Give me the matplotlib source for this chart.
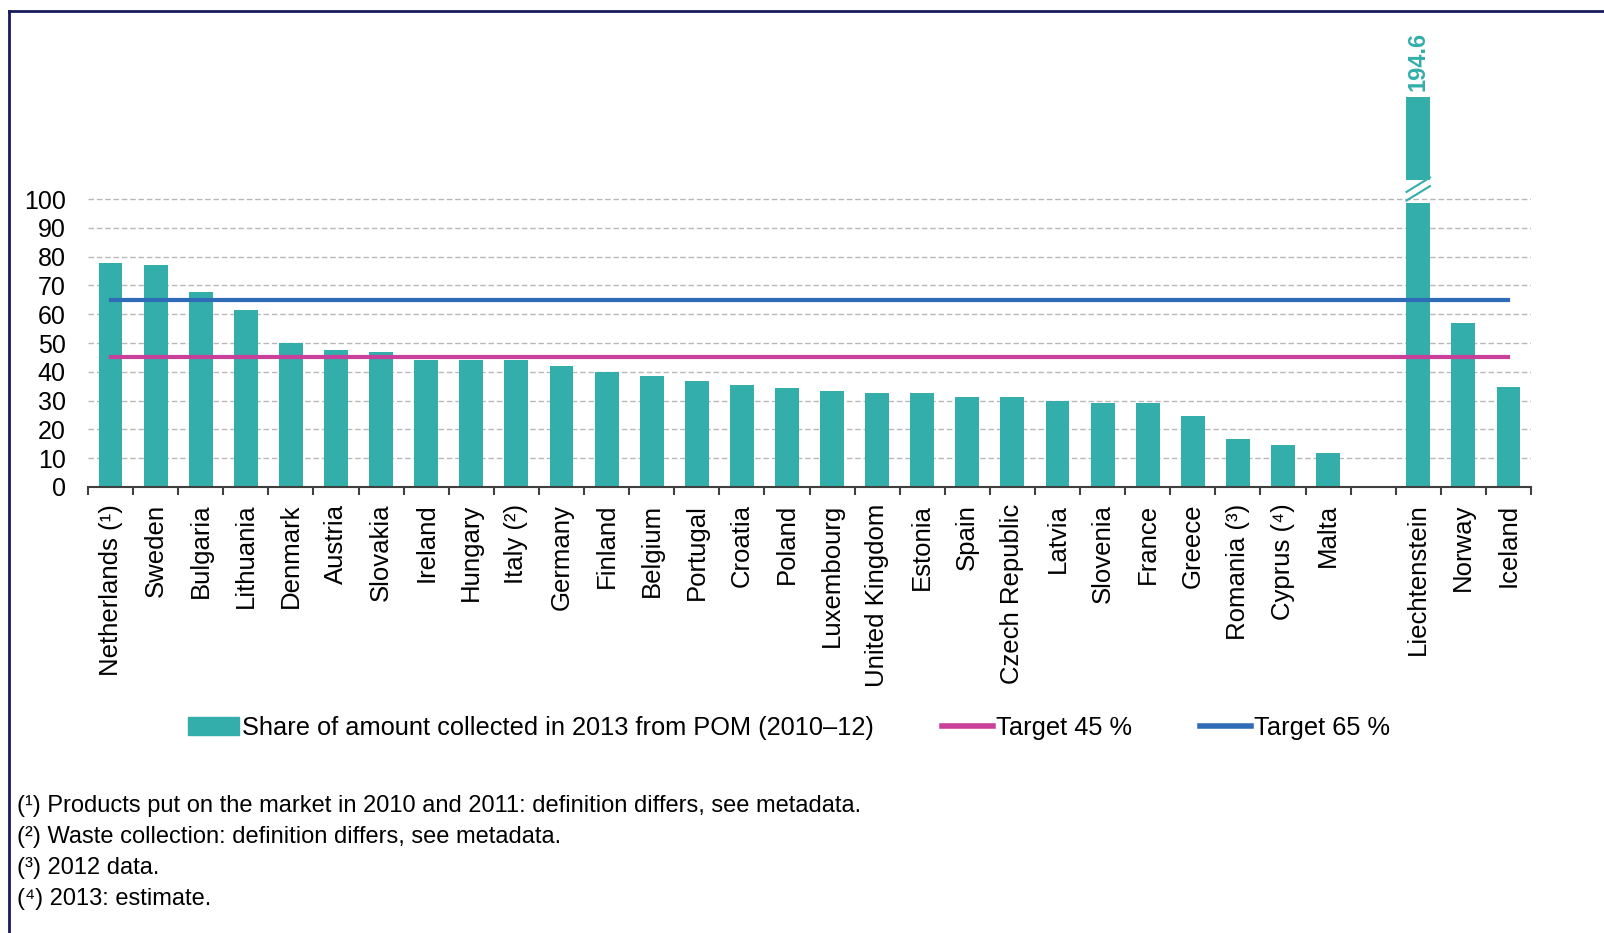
import matplotlib.pyplot as plt
import numpy as np
from matplotlib.lines import Line2D
from matplotlib.patches import Patch

plt.rcParams['font.family'] = ['Liberation Sans', 'DejaVu Sans']

countries = ['Netherlands (\u00b9)', 'Sweden', 'Bulgaria', 'Lithuania', 'Denmark',
             'Austria', 'Slovakia', 'Ireland', 'Hungary', 'Italy (\u00b2)',
             'Germany', 'Finland', 'Belgium', 'Portugal', 'Croatia', 'Poland',
             'Luxembourg', 'United Kingdom', 'Estonia', 'Spain', 'Czech Republic',
             'Latvia', 'Slovenia', 'France', 'Greece', 'Romania (\u00b3)',
             'Cyprus (\u2074)', 'Malta', '', 'Liechtenstein', 'Norway', 'Iceland']
share = [77.8, 77.1, 67.7, 61.5, 50.0, 47.6, 46.9, 44.1, 44.0, 44.0,
         42.0, 40.0, 38.5, 36.8, 35.4, 34.4, 33.3, 32.6, 32.6, 31.2, 31.2,
         29.9, 29.2, 29.2, 24.7, 16.7, 14.6, 11.8, np.nan, 194.6, 57.0, 34.7]
target_45 = 45
target_65 = 65

footnotes = ['(\u00b9) Products put on the market in 2010 and 2011: definition differs, see metadata.',
             '(\u00b2) Waste collection: definition differs, see metadata.',
             '(\u00b3) 2012 data.',
             '(\u2074) 2013: estimate.']

teal = '#33aeaa'
magenta = '#c9409a'
blue = '#2f6cb8'

fig = plt.figure(figsize=(16.04, 9.33), dpi=100)
ax = fig.add_axes([88/1604, 446/933, 1443/1604, 467/933])

x = np.arange(len(countries))
vals = np.array(share, dtype=float)
cap = 100
shown = np.where(vals > cap, 98.6, vals)
ax.bar(x, shown, width=0.53, color=teal, zorder=2)

# broken bar for the value above 100
for i, v in enumerate(vals):
    if v > cap:
        ax.bar(i, 135.4 - 106.6, bottom=106.6, width=0.53, color=teal, zorder=2)
        ax.plot([i - 0.26, i + 0.26], [99.5, 104.5], color=teal, lw=1.5, zorder=2)
        ax.plot([i - 0.26, i + 0.26], [102.5, 107.5], color=teal, lw=1.5, zorder=2)
        ax.text(i, 137.5, '%.1f' % v, rotation=90, ha='center', va='bottom',
                color=teal, fontsize=17, fontweight='bold')

ax.plot([x[0], x[-1]], [target_45, target_45], color=magenta, lw=3, zorder=3)
ax.plot([x[0], x[-1]], [target_65, target_65], color=blue, lw=3, zorder=3)

ax.set_xlim(-0.5, len(countries) - 0.5)
ax.set_ylim(0, 162.2)
ax.set_yticks(np.arange(0, 101, 10))
ax.tick_params(axis='y', length=0, labelsize=18, pad=16)
for yv in range(10, 101, 10):
    ax.axhline(yv, xmin=0, xmax=1, color='#b8b8b8', lw=1, ls=(0, (4, 2)), zorder=1)

ax.set_xticks(x)
ax.set_xticklabels(countries, rotation=90, fontsize=18.5)
ax.tick_params(axis='x', length=0, pad=12)
ax.set_xticks(np.arange(-0.5, len(countries) + 0.5, 1), minor=True)
ax.tick_params(axis='x', which='minor', length=6, width=1.5, color='#404040')

for s in ['top', 'right', 'left']:
    ax.spines[s].set_visible(False)
ax.spines['bottom'].set_color('#404040')
ax.spines['bottom'].set_linewidth(1.5)

handles = [Patch(color=teal), Line2D([], [], color=magenta, lw=4),
           Line2D([], [], color=blue, lw=4)]
labels = ['Share of amount collected in 2013 from POM (2010\u201312)',
          'Target 45 %', 'Target 65 %']
fig.legend(handles, labels, loc='center', bbox_to_anchor=(789/1604, 1 - 728/933),
           ncol=3, frameon=False, fontsize=18.3, handlelength=2.0, handletextpad=0.1,
           columnspacing=2.7)

for k, note in enumerate(footnotes):
    fig.text(17/1604, 1 - (806 + 31*k)/933, note, fontsize=17, va='center', ha='left')

# frame
fig.add_artist(Line2D([9/1604, 1], [1 - 11/933, 1 - 11/933], color='#1a1a5e', lw=2,
                      transform=fig.transFigure))
fig.add_artist(Line2D([9/1604, 9/1604], [0, 1 - 11/933], color='#1a1a5e', lw=2,
                      transform=fig.transFigure))

fig.savefig('out.png', dpi=100)
